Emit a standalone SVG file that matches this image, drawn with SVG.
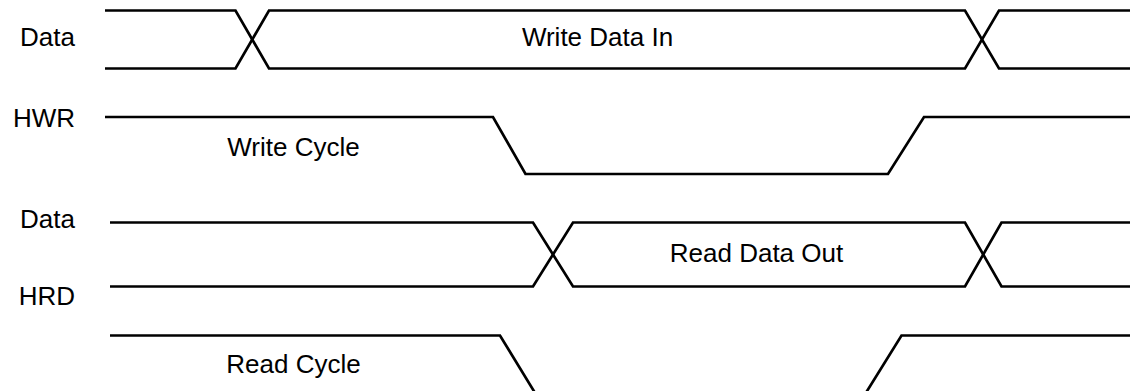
<svg xmlns="http://www.w3.org/2000/svg" width="1130" height="391" viewBox="0 0 1130 391">
<style>
.sig{fill:none;stroke:#000;stroke-width:2.7;stroke-linejoin:miter;stroke-linecap:butt}
.lbl{font-family:"Liberation Sans",Arial,Helvetica,sans-serif;font-size:26px;fill:#000}
.end{text-anchor:end}
.mid{text-anchor:middle}
</style>
<rect width="1130" height="391" fill="#fff"/>
<g id="labels">
<g id="label-data-write"><text class="lbl end" x="75" y="46">Data</text></g>
<g id="label-hwr"><text class="lbl end" x="75" y="126.5">HWR</text></g>
<g id="label-data-read"><text class="lbl end" x="75" y="227.5">Data</text></g>
<g id="label-hrd"><text class="lbl end" x="75" y="305">HRD</text></g>
</g>
<g id="connectors">
<g id="data-write">
<path class="sig" d="M105 10.5 H235.5 L269 68.5 H965 L999 10.5 H1130"/>
<path class="sig" d="M105 68.5 H235.5 L269 10.5 H965 L999 68.5 H1130"/>
</g>
<g id="hwr">
<path class="sig" d="M105 117 H493 L525.5 174 H888 L924 117 H1130"/>
</g>
<g id="data-read">
<path class="sig" d="M110 222.5 H533 L573 286.5 H965 L1001.5 222.5 H1130"/>
<path class="sig" d="M110 286.5 H533 L573 222.5 H965 L1001.5 286.5 H1130"/>
</g>
<g id="hrd">
<path class="sig" d="M110 335.5 H500 L535.7 394 H865.2 L901.5 335.5 H1130"/>
</g>
</g>
<g id="annotations">
<g id="write-data-in"><text class="lbl mid" x="597.5" y="46">Write Data In</text></g>
<g id="write-cycle"><text class="lbl mid" x="293.5" y="156">Write Cycle</text></g>
<g id="read-data-out"><text class="lbl mid" x="756.5" y="261.5">Read Data Out</text></g>
<g id="read-cycle"><text class="lbl mid" x="293.5" y="373">Read Cycle</text></g>
</g>
</svg>
